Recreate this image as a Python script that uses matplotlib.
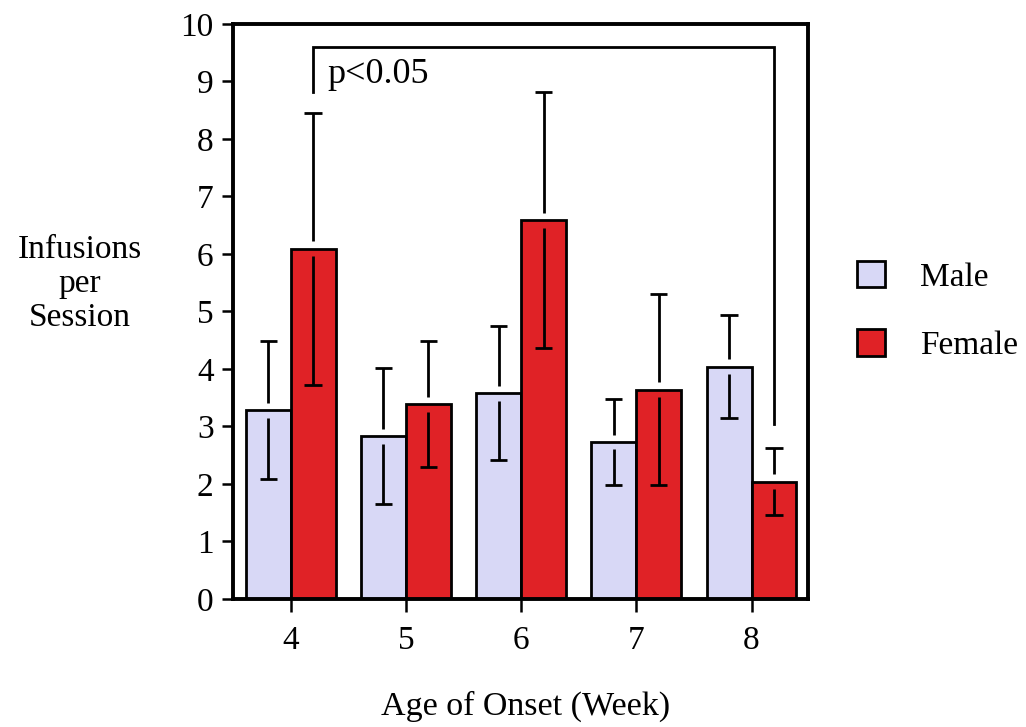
import matplotlib
matplotlib.use("Agg")
import matplotlib.pyplot as plt
import numpy as np
from matplotlib.patches import Patch

plt.rcParams['font.family'] = ['Liberation Serif', 'DejaVu Serif']

# Data: mean infusions per session (+/- SEM) by age of onset
weeks = [4, 5, 6, 7, 8]
male_mean = [3.28, 2.83, 3.58, 2.73, 4.04]
male_sem = [1.20, 1.18, 1.17, 0.74, 0.90]
female_mean = [6.09, 3.39, 6.59, 3.64, 2.04]
female_sem = [2.36, 1.09, 2.23, 1.66, 0.58]

male_color = '#d8d8f6'
female_color = '#e02226'
lw = 2.0

fig = plt.figure(figsize=(10.26, 7.27), dpi=100)
ax = fig.add_axes([0.2271, 0.1761, 0.5604, 0.7909])

x = np.array(weeks, dtype=float)
w = 0.39
xm = x - w / 2
xf = x + w / 2

ax.bar(xm, male_mean, width=w, color=male_color, edgecolor='black', linewidth=lw, zorder=2)
ax.bar(xf, female_mean, width=w, color=female_color, edgecolor='black', linewidth=lw, zorder=2)

# Error bars with a small break where they cross the bar top
gap = 0.13
cap = 0.075
for xs, means, errs in [(xm, male_mean, male_sem), (xf, female_mean, female_sem)]:
    means = np.array(means)
    errs = np.array(errs)
    ax.vlines(xs, means + gap, means + errs, color='black', lw=lw, zorder=3)
    ax.vlines(xs, means - errs, means - gap, color='black', lw=lw, zorder=3)
    ax.hlines(means + errs, xs - cap, xs + cap, color='black', lw=lw, zorder=3)
    ax.hlines(means - errs, xs - cap, xs + cap, color='black', lw=lw, zorder=3)

# Significance bracket between week 4 and week 8 females
bracket_top = 9.6
ax.plot([xf[0], xf[0], xf[-1], xf[-1]], [8.82, bracket_top, bracket_top, 3.05],
        color='black', lw=lw, zorder=3, solid_joinstyle='miter')
ax.text(xf[0] + 0.12, 9.13, 'p<0.05', fontsize=26, ha='left', va='center')

ax.set_xlim(3.5, 8.49)
ax.set_ylim(0, 10)
ax.set_xticks(weeks)
ax.set_xticklabels([str(v) for v in weeks])
ax.set_yticks(range(0, 11))

for s in ax.spines.values():
    s.set_linewidth(2.8)

ax.tick_params(axis='y', direction='out', length=8, width=1.8, pad=6, labelsize=24)
ax.tick_params(axis='x', direction='out', length=9, width=1.8, pad=10, labelsize=24)

fig.text(80 / 1026, 1 - 284 / 727, 'Infusions\nper\nSession', fontsize=24,
         ha='center', va='center', multialignment='center', linespacing=1.14)
fig.text(526 / 1026, 1 - 706 / 727, 'Age of Onset (Week)', fontsize=24.5,
         ha='center', va='center')

handles = [Patch(facecolor=male_color, edgecolor='black', linewidth=lw),
           Patch(facecolor=female_color, edgecolor='black', linewidth=lw)]
fig.legend(handles, ['Male', 'Female'], loc='center left',
           bbox_to_anchor=(857 / 1026, 1 - 311 / 727), frameon=False,
           fontsize=24, handlelength=0.85, handleheight=0.85,
           handletextpad=1.05, labelspacing=1.1, borderpad=0, borderaxespad=0)

fig.savefig('out.png', dpi=100)
